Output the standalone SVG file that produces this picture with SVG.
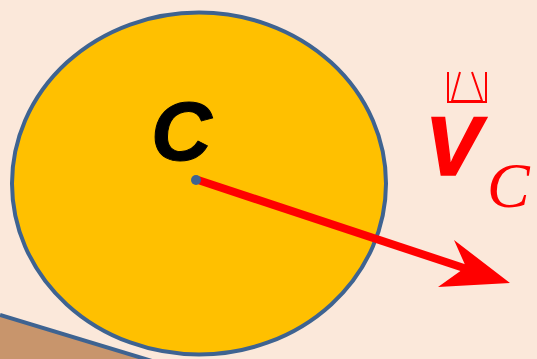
<svg xmlns="http://www.w3.org/2000/svg" width="537" height="359" viewBox="0 0 537 359">
<style>
.edge{stroke:#3E6391;stroke-width:4;}
.lbl{font-family:"Liberation Sans",Arial,sans-serif;font-weight:bold;font-style:italic;}
.sub{font-family:"Liberation Serif","Times New Roman",serif;font-style:italic;fill:#FF0000;}
.tofu{stroke:#FF0000;stroke-width:2;fill:none;}
</style>
<rect width="537" height="359" fill="#FBE8DA"/>
<g id="incline">
<polygon points="0,315 150,361 0,361" fill="#C8956C"/>
<line x1="0" y1="315" x2="152" y2="361" class="edge"/>
</g>
<g id="wheel">
<ellipse cx="199" cy="183.5" rx="187" ry="171" fill="#FFC000" class="edge"/>
<text x="151" y="160" class="lbl" font-size="84" fill="#000000" stroke="#000000" stroke-width="1">C</text>
</g>
<g id="connectors">
<line x1="198" y1="180" x2="470" y2="270" stroke="#FF0000" stroke-width="8"/>
<polygon points="510,283 454,240 466,267 438,287" fill="#FF0000"/>
<circle cx="196" cy="180" r="5" fill="#3E6391"/>
</g>
<g id="velocity">
<polyline points="448,72 448,102 486,102 486,72" class="tofu"/>
<polyline points="460,72 452,101 482,101 472,72" class="tofu"/>
<text x="425" y="175" class="lbl" font-size="84" fill="#FF0000" stroke="#FF0000" stroke-width="1.5">V</text>
<text x="487" y="207" class="sub" font-size="64">C</text>
</g>
</svg>
